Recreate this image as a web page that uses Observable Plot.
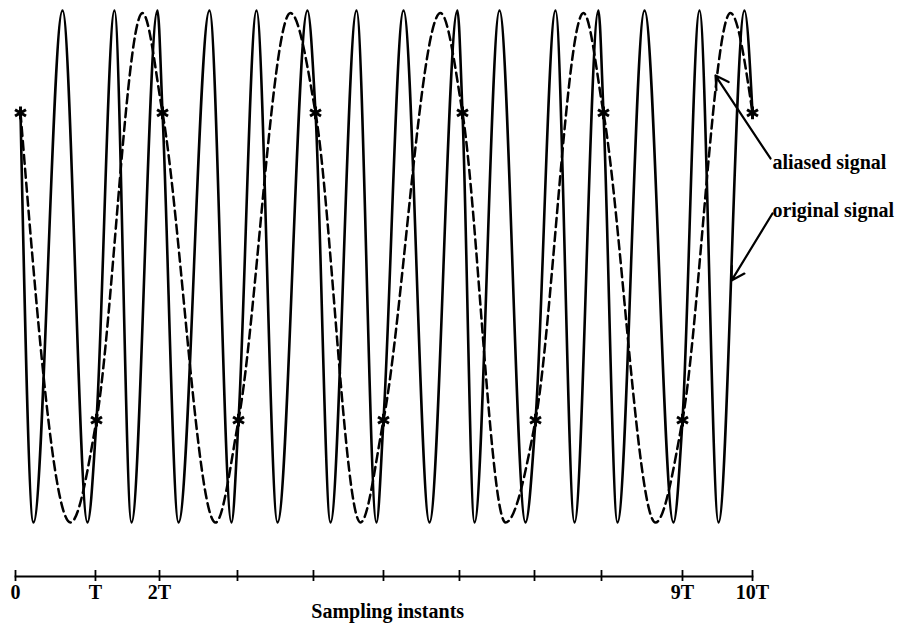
<!DOCTYPE html>
<html>
<head>
<meta charset="utf-8">
<script src="https://cdn.jsdelivr.net/npm/d3@7"></script>
<script src="https://cdn.jsdelivr.net/npm/@observablehq/plot@0.6"></script>
<style>
  html, body { margin: 0; padding: 0; background: #fff; }
</style>
</head>
<body>
<div id="chart"></div>
<script>
// Time in units of the sampling period T, amplitude normalised to ±1
// Original signal: start, extremes and sample points
const originalT = [0.068, 0.244, 0.638, 0.977, 1.099, 1.343, 1.574, 1.927, 1.995, 2.212, 2.632, 2.931, 3.026, 3.270, 3.555, 3.962, 4.071, 4.274, 4.627, 4.898, 4.993, 5.265, 5.617, 5.997, 6.065, 6.228, 6.567, 6.920, 7.056, 7.327, 7.585, 7.910, 7.978, 8.168, 8.535, 8.928, 9.050, 9.281, 9.539, 9.891, 10.0];
const originalV = [0.6, -1, 1, -1, -0.6, 1, -1, 1, 0.6, -1, 1, -1, -0.6, 1, -1, 1, 0.6, -1, 1, -1, -0.6, 1, -1, 1, 0.6, -1, 1, -1, -0.6, 1, -1, 1, 0.6, -1, 1, -1, -0.6, 1, -1, 1, 0.6];

// Aliased signal
const aliasedT = [0.068, 0.746, 1.099, 1.723, 1.995, 2.714, 3.026, 3.731, 4.071, 4.681, 4.993, 5.767, 6.065, 6.649, 7.056, 7.707, 7.978, 8.684, 9.050, 9.701, 10.0];
const aliasedV = [0.6, -1, -0.6, 0.99, 0.6, -1, -0.6, 0.99, 0.6, -1, -0.6, 0.99, 0.6, -1, -0.6, 0.99, 0.6, -1, -0.6, 0.99, 0.6];

// Sampled values (asterisks)
const sampleT = [0.068, 1.099, 1.995, 3.026, 4.071, 4.993, 6.065, 7.056, 7.978, 9.050, 10.0];
const sampleV = [0.6, -0.6, 0.6, -0.6, 0.6, -0.6, 0.6, -0.6, 0.6, -0.6, 0.6];

// Sampling-instant ticks and their labels
const tickT = [0, 1.085, 1.954, 3.012, 4.043, 4.993, 6.024, 7.042, 7.951, 9.050, 10];
const tickLabels = ["0", "T", "2T", "", "", "", "", "", "", "9T", "10T"];
const axisTitle = "Sampling instants";

// Annotations
const noteText = ["aliased signal", "original signal"];
const noteT = [10.27, 10.27];
const noteV = [0.406, 0.219];
const arrowFromT = [10.244, 10.271];
const arrowFromV = [0.422, 0.207];
const arrowToT = [9.498, 9.715];
const arrowToV = [0.746, -0.055];

const original = originalT.map((t, i) => ({t, v: originalV[i]}));
const aliased = aliasedT.map((t, i) => ({t, v: aliasedV[i]}));
const samples = sampleT.map((t, i) => ({t, v: sampleV[i]}));
const labelMap = new Map(tickT.map((t, i) => [t, tickLabels[i]]));
const notes = noteText.map((s, i) => ({s, t: noteT[i], v: noteV[i]}));
const arrows = arrowFromT.map((t, i) => ({x1: t, y1: arrowFromV[i], x2: arrowToT[i], y2: arrowToV[i]}));

const chart = Plot.plot({
  width: 903,
  height: 634,
  marginLeft: 15,
  marginRight: 151,
  marginTop: 10,
  marginBottom: 58,
  style: {fontFamily: "'Liberation Serif', 'DejaVu Serif', serif", fontSize: "20px", fontWeight: "bold", background: "#fff", color: "#000"},
  x: {domain: [0, 10]},
  y: {domain: [-1, 1], insetBottom: 54, axis: null},
  marks: [
    Plot.line(aliased, {x: "t", y: "v", curve: "monotone-x", stroke: "#000", strokeWidth: 2.5, strokeDasharray: "9,5"}),
    Plot.line(original, {x: "t", y: "v", curve: "monotone-x", stroke: "#000", strokeWidth: 2.6}),
    Plot.dot(samples, {x: "t", y: "v", symbol: "asterisk", r: 6, stroke: "#000", strokeWidth: 3}),
    Plot.arrow(arrows, {x1: "x1", y1: "y1", x2: "x2", y2: "y2", stroke: "#000", strokeWidth: 2.2, headLength: 10}),
    Plot.text(notes, {x: "t", y: "v", text: "s", textAnchor: "start", fill: "#000"}),
    Plot.frame({anchor: "bottom", stroke: "#000", strokeWidth: 1.8}),
    Plot.axisX(tickT, {tickSize: 11, insetBottom: 6, tickPadding: 3, strokeWidth: 1.8, tickFormat: d => labelMap.get(d), label: null, fill: "#000"}),
    Plot.text([axisTitle], {x: [5.05], frameAnchor: "bottom", dy: 41, text: d => d, fill: "#000"})
  ]
});
document.getElementById("chart").appendChild(chart);
</script>
</body>
</html>
